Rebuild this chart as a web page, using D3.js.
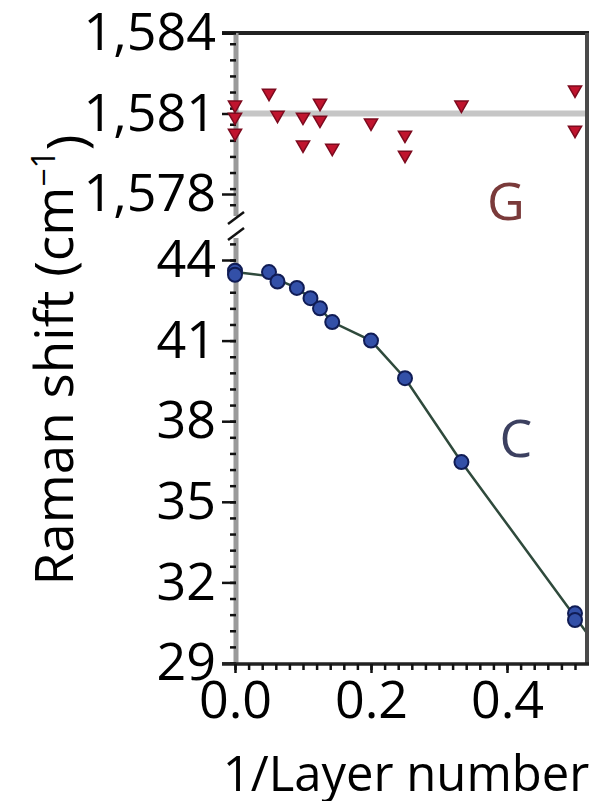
<!DOCTYPE html>
<html>
<head>
<meta charset="utf-8">
<script src="https://cdn.jsdelivr.net/npm/d3@7"></script>
<style>
  body { margin: 0; background: #fff; }
  svg text { font-family: "Open Sans", sans-serif; }
</style>
</head>
<body>
<svg id="chart" width="594" height="801"></svg>
<script>

// G band (upper panel)
var gX = [0, 0, 0, 0.05, 0.0625, 0.1, 0.1, 0.125, 0.125, 0.143, 0.2, 0.25, 0.25, 0.333, 0.5, 0.5];
var gY = [1581.32, 1580.87, 1580.27, 1581.76, 1580.94, 1580.87, 1579.83, 1581.39, 1580.76, 1579.71, 1580.65, 1580.2, 1579.45, 1581.32, 1581.88, 1580.38];
var gMean = 1581;

// C (shear) mode, lower panel
var cX = [0, 0, 0.05, 0.0625, 0.091, 0.111, 0.125, 0.143, 0.2, 0.25, 0.333, 0.5, 0.5];
var cY = [43.6, 43.45, 43.55, 43.2, 42.96, 42.58, 42.2, 41.69, 41.0, 39.6, 36.48, 30.85, 30.6];

// line through C, as traced
var fitX = [0, 0.05, 0.091, 0.111, 0.125, 0.143, 0.2, 0.25, 0.333, 0.5, 0.518];
var fitY = [43.55, 43.4, 42.96, 42.58, 42.2, 41.69, 41.0, 39.6, 36.48, 30.72, 30.1];

var xTicks = [0, 0.2, 0.4];
var yTopTicks = [1578, 1581, 1584];
var yBotTicks = [29, 32, 35, 38, 41, 44];

var svg = d3.select("#chart");
var fs = 52;

var x = d3.scaleLinear().domain([0, 0.5]).range([235, 575]);
var yTop = d3.scaleLinear().domain([1578, 1584]).range([194, 33]);
var yBot = d3.scaleLinear().domain([29, 44]).range([663, 260]);

var pLeft = 236, pRight = 587, pTop = 33, pBottom = 664;
var breakTop = 216, breakBot = 238;

// reference line for G
svg.append("line")
	.attr("x1", x(0)).attr("x2", pRight)
	.attr("y1", yTop(gMean)).attr("y2", yTop(gMean))
	.attr("stroke", "#c6c6c6")
	.attr("stroke-width", 6);

// line for C
var fitLine = d3.line()
	.x(function(d) { return x(d[0]); })
	.y(function(d) { return yBot(d[1]); });

svg.append("path")
	.datum(fitX.map(function(v, i) { return [v, fitY[i]]; }))
	.attr("d", fitLine)
	.attr("fill", "none")
	.attr("stroke", "#2f4a3c")
	.attr("stroke-width", 2.5);

// frame: top and right
svg.append("line").attr("x1", 222).attr("x2", pRight + 2).attr("y1", pTop).attr("y2", pTop)
	.attr("stroke", "#222").attr("stroke-width", 4);
svg.append("line").attr("x1", pRight).attr("x2", pRight).attr("y1", pTop).attr("y2", pBottom)
	.attr("stroke", "#4a4a4a").attr("stroke-width", 4);

// left axis line (broken)
svg.append("line").attr("x1", pLeft).attr("x2", pLeft).attr("y1", pTop).attr("y2", breakTop)
	.attr("stroke", "#9a9a9a").attr("stroke-width", 5);
svg.append("line").attr("x1", pLeft).attr("x2", pLeft).attr("y1", breakBot).attr("y2", pBottom)
	.attr("stroke", "#9a9a9a").attr("stroke-width", 5);

// break marks
[breakTop + 2, breakBot - 4].forEach(function(yy) {
	svg.append("line")
		.attr("x1", pLeft - 8).attr("x2", pLeft + 8)
		.attr("y1", yy + 6).attr("y2", yy - 6)
		.attr("stroke", "#111").attr("stroke-width", 2.5);
});

function styleAxis(g) {
	g.select(".domain").remove();
	g.selectAll(".tick line").attr("stroke", "#111").attr("stroke-width", 2.5);
	g.selectAll(".tick text").attr("fill", "#000").style("font-size", fs + "px");
}

function minorTicks(lo, hi, step) {
	var out = [];
	for (var v = lo; v <= hi + 1e-9; v += step) out.push(+v.toFixed(4));
	return out;
}

// upper y axis
svg.append("g")
	.attr("transform", "translate(" + pLeft + ",0)")
	.call(d3.axisLeft(yTop).tickValues(minorTicks(1577.6, 1584, 0.6)).tickSize(6).tickFormat(""))
	.call(styleAxis);
svg.append("g")
	.attr("transform", "translate(" + pLeft + ",0)")
	.call(d3.axisLeft(yTop).tickValues(yTopTicks).tickSize(14).tickPadding(6).tickFormat(d3.format(",")))
	.call(styleAxis);

// lower y axis
svg.append("g")
	.attr("transform", "translate(" + pLeft + ",0)")
	.call(d3.axisLeft(yBot).tickValues(minorTicks(29, 44.6, 0.6)).tickSize(6).tickFormat(""))
	.call(styleAxis);
svg.append("g")
	.attr("transform", "translate(" + pLeft + ",0)")
	.call(d3.axisLeft(yBot).tickValues(yBotTicks).tickSize(14).tickPadding(6).tickFormat(d3.format("d")))
	.call(styleAxis);

// bottom axis
svg.append("line").attr("x1", 222).attr("x2", pRight + 2).attr("y1", pBottom).attr("y2", pBottom)
	.attr("stroke", "#222").attr("stroke-width", 3.5);
svg.append("g")
	.attr("transform", "translate(0," + pBottom + ")")
	.call(d3.axisBottom(x).tickValues(minorTicks(0, 0.5, 0.02)).tickSize(6).tickFormat(""))
	.call(styleAxis);
svg.append("g")
	.attr("transform", "translate(0," + pBottom + ")")
	.call(d3.axisBottom(x).tickValues(xTicks).tickSize(9).tickPadding(8).tickFormat(d3.format(".1f")))
	.call(styleAxis);

// G markers: down triangles
var tri = d3.symbol().type(d3.symbolTriangle).size(75);
svg.append("g").selectAll("path")
	.data(gX.map(function(v, i) { return [v, gY[i]]; }))
	.enter().append("path")
	.attr("d", tri)
	.attr("transform", function(d) { return "translate(" + x(d[0]) + "," + yTop(d[1]) + ") rotate(180)"; })
	.attr("fill", "#c0142e")
	.attr("stroke", "#7d0a1e")
	.attr("stroke-width", 1.5);

// C markers
svg.append("g").selectAll("circle")
	.data(cX.map(function(v, i) { return [v, cY[i]]; }))
	.enter().append("circle")
	.attr("cx", function(d) { return x(d[0]); })
	.attr("cy", function(d) { return yBot(d[1]); })
	.attr("r", 7)
	.attr("fill", "#3350a8")
	.attr("stroke", "#101c55")
	.attr("stroke-width", 2);

// panel letters
svg.append("text").attr("x", 506).attr("y", 220).attr("text-anchor", "middle")
	.attr("fill", "#7a3a3a").style("font-size", fs + "px").text("G");
svg.append("text").attr("x", 516).attr("y", 457).attr("text-anchor", "middle")
	.attr("fill", "#3c4060").style("font-size", fs + "px").text("C");

// axis titles
svg.append("text")
	.attr("x", 406).attr("y", 791)
	.attr("text-anchor", "middle")
	.attr("fill", "#000")
	.style("font-size", "49px")
	.text("1/Layer number");

var yt = svg.append("text")
	.attr("transform", "translate(73,360) rotate(-90)")
	.attr("text-anchor", "middle")
	.attr("fill", "#000")
	.style("font-size", "53px");
yt.append("tspan").text("Raman shift (cm");
yt.append("tspan").attr("dy", "-0.55em").style("font-size", "32px").text("\u22121");
yt.append("tspan").attr("dy", "0.55em").text(")");

</script>
</body>
</html>
